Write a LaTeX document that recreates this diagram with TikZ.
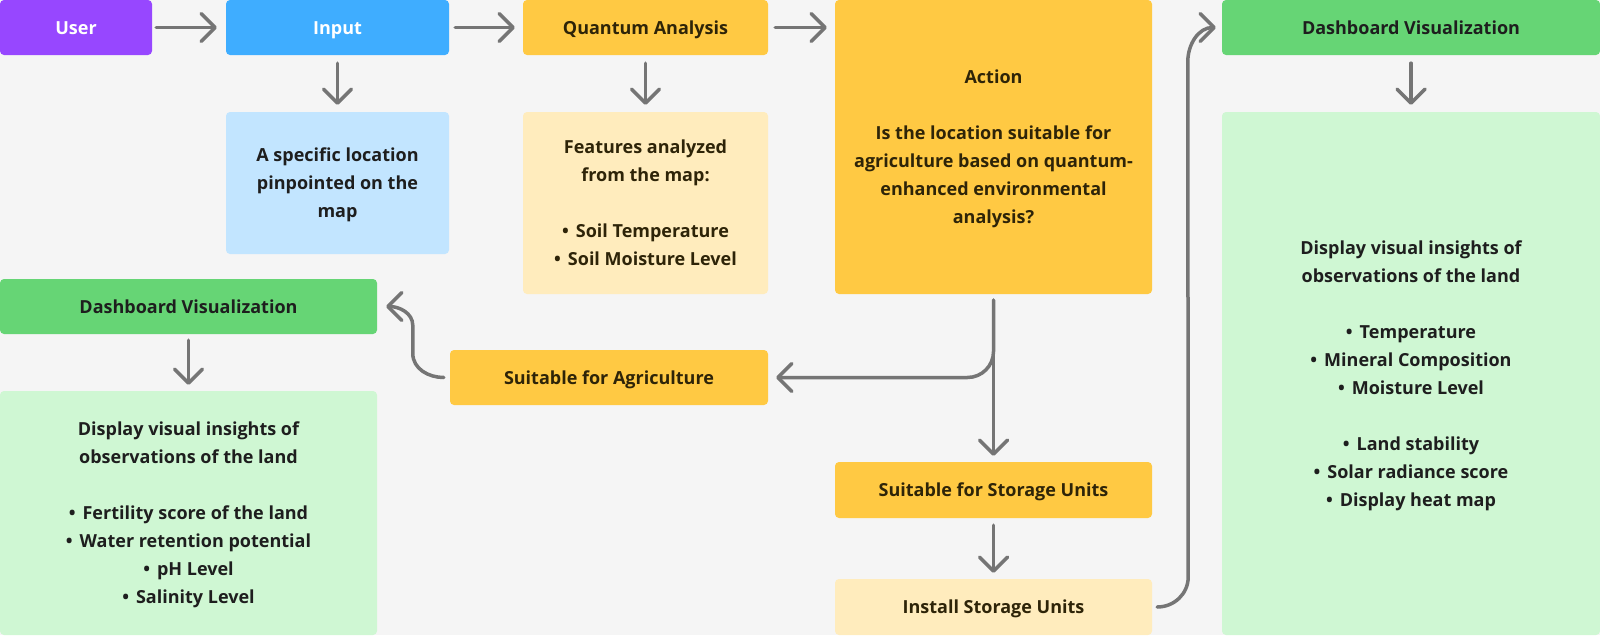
\documentclass[tikz,border=0pt]{standalone}
\usepackage{fontspec}
\setmainfont{Open Sans}
\usetikzlibrary{arrows.meta,calc}
\definecolor{bg}{HTML}{F5F5F5}
\definecolor{ink}{HTML}{1E1E1E}
\definecolor{inkw}{HTML}{2E2408}
\definecolor{arrgray}{HTML}{757575}
\definecolor{cpurple}{HTML}{9747FF}
\definecolor{cblue}{HTML}{3FADFF}
\definecolor{clblue}{HTML}{C2E5FF}
\definecolor{cyellow}{HTML}{FFC943}
\definecolor{clyellow}{HTML}{FFECBD}
\definecolor{cgreen}{HTML}{66D575}
\definecolor{clgreen}{HTML}{CFF7D3}
\newcommand{\bul}{•\hspace{7pt}}
\newcommand{\st}{\rule[-7.5pt]{0pt}{28pt}}
\begin{document}
\begin{tikzpicture}[x=1pt,y=1pt,
  box/.style={rectangle, rounded corners=4pt, inner sep=0pt, align=center,
    font=\bfseries\fontsize{18}{28}\selectfont, text=ink},
  arr/.style={draw=arrgray, line width=3.5pt, line cap=round,
    -{Straight Barb[length=14pt,width=28pt,round]}},
]
\fill[bg] (0,0) rectangle (1600,-635);
\useasboundingbox (0,0) rectangle (1600,-635);

% top row
\node[box, fill=cpurple, text=white, minimum width=152pt, minimum height=55pt] (user) at (76,-27.5) {\st User\st};
\node[box, fill=cblue, text=white, minimum width=223pt, minimum height=55pt] (input) at (337.5,-27.5) {\st Input\st};
\node[box, fill=cyellow, text=inkw, minimum width=245pt, minimum height=55pt] (qa) at (645.5,-27.5) {\st Quantum Analysis\st};
\node[box, fill=cyellow, text=inkw, minimum width=317pt, minimum height=294pt] (action) at (993.5,-147)
  {\st Action\\[28pt]Is the location suitable for\\agriculture based on quantum-\\enhanced environmental\\analysis?\st};
\node[box, fill=cgreen, minimum width=378pt, minimum height=55pt] (rdash) at (1411,-27.5) {\st Dashboard Visualization\st};

% second row
\node[box, fill=clblue, minimum width=223pt, minimum height=142pt] (loc) at (337.5,-183)
  {\st A specific location\\pinpointed on the\\map\st};
\node[box, fill=clyellow, text=inkw, minimum width=245pt, minimum height=182pt] (feat) at (645.5,-203)
  {\st Features analyzed\\from the map:\\[28pt]\bul Soil Temperature\\\bul Soil Moisture Level\st};
\node[box, fill=clgreen, minimum width=378pt, minimum height=523pt] (rbig) at (1411,-373.5)
  {\st Display visual insights of\\observations of the land\\[28pt]\bul Temperature\\\bul Mineral Composition\\\bul Moisture Level\\[28pt]\bul Land stability\\\bul Solar radiance score\\\bul Display heat map\st};

% left / lower part
\node[box, fill=cgreen, minimum width=377pt, minimum height=55pt] (ldash) at (188.5,-306.5) {\st Dashboard Visualization\st};
\node[box, fill=clgreen, minimum width=377pt, minimum height=244pt] (lbig) at (188.5,-513)
  {\st Display visual insights of\\observations of the land\\[28pt]\bul Fertility score of the land\\\bul Water retention potential\\\bul pH Level\\\bul Salinity Level\st};
\node[box, fill=cyellow, text=inkw, minimum width=318pt, minimum height=55pt] (agri) at (609,-377.5) {\st Suitable for Agriculture\st};
\node[box, fill=cyellow, text=inkw, minimum width=317pt, minimum height=56pt] (store) at (993.5,-490) {\st Suitable for Storage Units\st};
\node[box, fill=clyellow, text=inkw, minimum width=317pt, minimum height=56pt] (install) at (993.5,-607) {\st Install Storage Units\st};

% connectors
\draw[arr, shorten <=4pt, shorten >=9pt] (user.east) -- (input.west);
\draw[arr, shorten <=6pt, shorten >=8pt] (input.east) -- (qa.west);
\draw[arr, shorten <=7pt, shorten >=8pt] (qa.east) -- (qa.east -| action.west);
\draw[arr, shorten <=8pt, shorten >=7pt] (input.south) -- (loc.north);
\draw[arr, shorten <=8pt, shorten >=7pt] (qa.south) -- (feat.north);
\draw[arr, shorten <=8pt, shorten >=7pt] (rdash.south) -- (rbig.north);
\draw[arr, shorten <=6pt, shorten >=6pt] (ldash.south) -- (lbig.north);
\draw[arr, shorten <=6pt, shorten >=6pt] (action.south) -- (store.north);
\draw[arr, shorten <=7pt, shorten >=6pt] (store.south) -- (install.north);
\draw[arr, rounded corners=26pt] ([yshift=-6pt]action.south) |- ([xshift=8pt]agri.east);
\draw[arr] ([xshift=-6pt]agri.west) to[out=180,in=-90] ([xshift=-37pt,yshift=24pt]agri.west)
  -- ([xshift=-37pt,yshift=52pt]agri.west) to[out=90,in=0] ([xshift=9pt]ldash.east);
\draw[arr] ([xshift=5pt]install.east) to[out=0,in=-90] ([xshift=36pt,yshift=30pt]install.east)
  -- ([xshift=-34pt,yshift=-34pt]rdash.west) to[out=90,in=180] ([xshift=-6pt]rdash.west);
\end{tikzpicture}
\end{document}
